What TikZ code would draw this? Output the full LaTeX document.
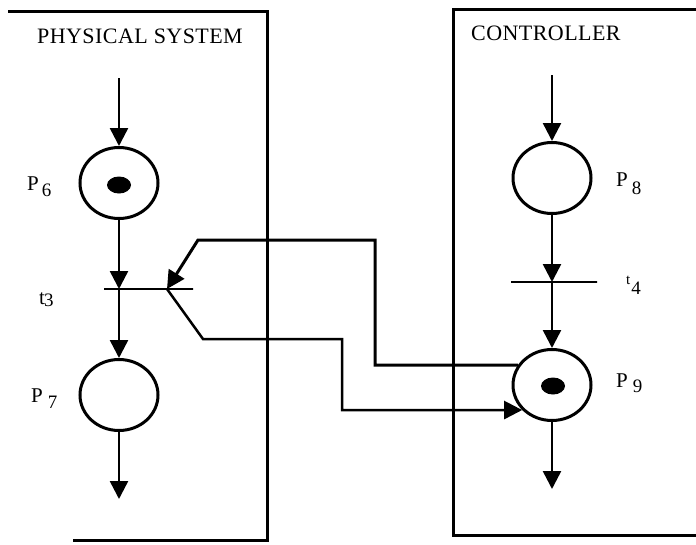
\documentclass[tikz,border=0pt]{standalone}
\usepackage{fontspec}
\setmainfont{Liberation Serif}
\usetikzlibrary{arrows.meta,shapes.geometric}
\tikzset{
  place/.style={ellipse, draw, line width=3pt, minimum width=78pt, minimum height=71pt, inner sep=0pt},
  token/.style={ellipse, fill, minimum width=24pt, minimum height=17pt, inner sep=0pt},
  trans/.style={draw, line width=2.6pt, minimum width=88pt, minimum height=0pt, inner sep=0pt},
  arc/.style={line width=2.5pt, -{Triangle[width=18pt,length=18pt]}},
  frame/.style={line width=3pt},
  lbl/.style={anchor=base west, inner sep=0pt, font=\fontsize{21}{22}\selectfont},
  title/.style={anchor=base west, inner sep=0pt, font=\fontsize{22}{24}\selectfont\addfontfeatures{LetterSpace=2}},
}
% lowered index digit of a place or transition name
\newcommand{\pidx}[2][6pt]{\raisebox{-#1}{\fontsize{19}{19}\selectfont #2}}
\begin{document}
\begin{tikzpicture}[x=1pt, y=-1pt]
\useasboundingbox (0,0) rectangle (696,544);
% the two frames
\draw[frame] (73,540) -- (267,540) -- (267,11) -- (8,11);
\draw[frame] (696,9) -- (453,9) -- (453,535) -- (696,535);
\node[title] (sys) at (37,43) {PHYSICAL SYSTEM};
\node[title] (ctl) at (471,40) {CONTROLLER};
% physical system
\coordinate (in6) at (119,78);
\node[place] (p6) at (119,183) {};
\node[token] (k6) at (119,185) {};
\node[trans, minimum width=89pt] (t3) at (148.5,289) {};
\node[place] (p7) at (119,395) {};
\coordinate (out7) at (119,499);
\draw[arc] (in6) -- (p6);
\draw[arc] (p6) -- (p6 |- t3);
\draw[arc] (p6 |- t3) -- (p7);
\draw[arc] (p7) -- (out7);
% controller
\coordinate (in8) at (552,75);
\node[place] (p8) at (552,178) {};
\node[trans, minimum width=86pt] (t4) at (554,282) {};
\node[place] (p9) at (552,385) {};
\node[token] (k9) at (553,386) {};
\coordinate (out9) at (552,489);
\draw[arc] (in8) -- (p8);
\draw[arc] (p8) -- (p8 |- t4);
\draw[arc] (p8 |- t4) -- (p9);
\draw[arc] (p9) -- (out9);
% links between the two nets
\coordinate (t3in) at (167,289);
\coordinate (highbend) at (375,240);
\coordinate (lowbend) at (342,339);
\draw[arc, line width=3pt] (p9.150) -| (highbend) -- (198,240) -- (t3in);
\draw[arc] (t3in) -- (203,339) -- (lowbend) |- (p9.220);
% names
\node[lbl] (l6) at (27,190) {P\kern3pt\pidx{6}};
\node[lbl] (l7) at (31,402) {P\kern5pt\pidx{7}};
\node[lbl] (l8) at (616,186) {P\kern4pt\pidx[8pt]{8}};
\node[lbl] (l9) at (616,387) {P\kern5pt\pidx[5pt]{9}};
\node[lbl] (l3) at (39,304) {t\kern-1pt\pidx[2pt]{3}};
\node[lbl] (l4) at (626,284) {{\fontsize{15}{15}\selectfont t}\kern1pt\pidx[10pt]{4}};
\end{tikzpicture}
\end{document}
